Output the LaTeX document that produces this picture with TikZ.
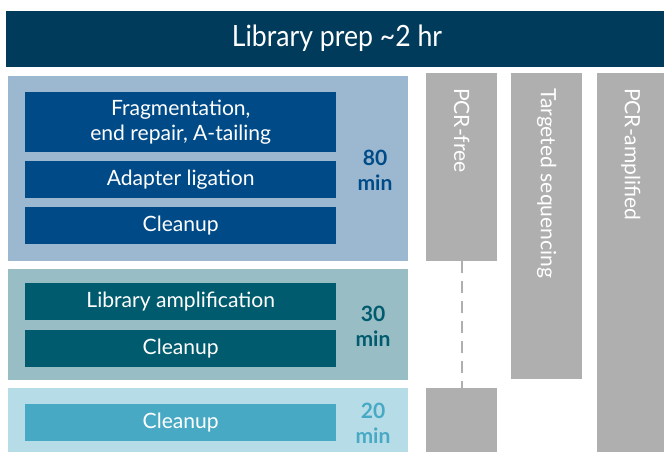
\documentclass[tikz,border=0pt]{standalone}
\usepackage{fontspec}
\setmainfont{Lato}
\newfontfamily\headfont[FakeStretch=0.91]{Lato}
\usetikzlibrary{positioning}

\definecolor{navy}{HTML}{003B5C}
\definecolor{prepbg}{HTML}{9CB8D0}
\definecolor{prepfg}{HTML}{004B87}
\definecolor{ampbg}{HTML}{99BDC4}
\definecolor{ampfg}{HTML}{005B6E}
\definecolor{cleanbg}{HTML}{B6DDE7}
\definecolor{cleanfg}{HTML}{48A9C5}
\definecolor{colgray}{HTML}{AFAFAF}

\tikzstyle{panel} = [rectangle, inner sep=0pt, anchor=north west, minimum width=12cm]
\tikzstyle{stage} = [rectangle, inner sep=0pt, minimum width=9.33cm, minimum height=1.11cm,
text centered, text=white, font=\fontsize{18}{21}\selectfont]
\tikzstyle{time} = [align=center, font=\bfseries\fontsize{18}{21.5}\selectfont]
\tikzstyle{column} = [rectangle, inner sep=0pt, anchor=north west, fill=colgray]
\tikzstyle{collabel} = [rotate=-90, anchor=west, text=white, font=\fontsize{18}{20}\selectfont]

\begin{document}
\begin{tikzpicture}[x=0.03cm, y=-0.03cm, node distance=0.24cm]
  \useasboundingbox (0,0) rectangle (664,452);

  \node (header) [panel, fill=navy, minimum width=19.74cm, minimum height=1.68cm] at (6,11) {};
  \node (title) [text=white, anchor=base, font=\headfont\fontsize{25}{27}\selectfont] at (337,47)
    {Library prep \textasciitilde 2 hr};

  % 80 min block
  \node (prep) [panel, fill=prepbg, minimum height=5.55cm] at (8,76) {};
  \node (frag) [stage, fill=prepfg, anchor=north west, minimum height=1.8cm, align=center,
    font=\fontsize{18}{22}\selectfont] at (25,92) {Fragmentation,\\end repair, A-tailing};
  \node (lig) [stage, fill=prepfg, below=of frag] {Adapter ligation};
  \node (clean1) [stage, fill=prepfg, below=0.27cm of lig] {Cleanup};
  \node (t80) [time, text=prepfg] at (375,170) {80\\min};

  % 30 min block
  \node (amp) [panel, fill=ampbg, minimum height=3.33cm] at (8,269) {};
  \node (libamp) [stage, fill=ampfg, anchor=north west] at (25,283) {Library amplification};
  \node (clean2) [stage, fill=ampfg, below=0.27cm of libamp] {Cleanup};
  \node (t30) [time, text=ampfg] at (373,326) {30\\min};

  % 20 min block
  \node (final) [panel, fill=cleanbg, minimum height=1.92cm] at (8,388) {};
  \node (clean3) [stage, fill=cleanfg, anchor=north west] at (25,404) {Cleanup};
  \node (t20) [time, text=cleanfg] at (373,423) {20\\min};

  % workflow columns
  \node (pcrfree) [column, minimum width=2.13cm, minimum height=5.64cm] at (426,73) {};
  \node (pcrfreeend) [column, minimum width=2.13cm, minimum height=1.92cm] at (426,388) {};
  \node (targeted) [column, minimum width=2.13cm, minimum height=9.18cm] at (511,73) {};
  \node (pcramp) [column, minimum width=2.01cm, minimum height=11.37cm] at (597,73) {};

  \node (lblfree) [collabel] at ([yshift=-0.33cm]pcrfree.north) {PCR-free};
  \node (lbltarget) [collabel] at ([yshift=-0.33cm]targeted.north) {Targeted sequencing};
  \node (lblamp) [collabel] at ([yshift=-0.33cm]pcramp.north) {PCR-amplified};

  \draw[colgray, line width=1.5pt, dash pattern=on 10pt off 7pt] (pcrfree) -- (pcrfreeend);
\end{tikzpicture}
\end{document}
